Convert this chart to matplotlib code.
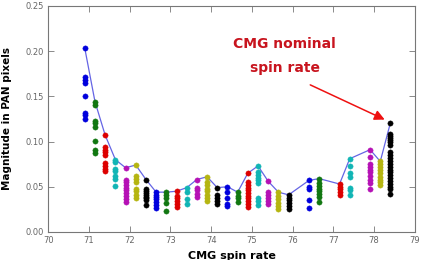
import matplotlib
matplotlib.use('Agg')
import matplotlib.pyplot as plt
from itertools import cycle

# CMG spin rate for each measurement column
spin_rates = [70.9, 71.15, 71.4, 71.65, 71.9, 72.15, 72.4, 72.65, 72.9, 73.15,
              73.4, 73.65, 73.9, 74.15, 74.4, 74.65, 74.9, 75.15, 75.4, 75.65,
              75.9, 76.4, 76.65, 77.15, 77.4, 77.9, 78.15, 78.4]

# jitter magnitudes (PAN pixels) measured at each spin rate
magnitudes = [
    [0.203, 0.171, 0.168, 0.165, 0.150, 0.132, 0.129, 0.125],
    [0.144, 0.140, 0.123, 0.120, 0.116, 0.101, 0.091, 0.087],
    [0.107, 0.094, 0.091, 0.088, 0.085, 0.076, 0.073, 0.070, 0.067],
    [0.080, 0.077, 0.070, 0.067, 0.062, 0.059, 0.051],
    [0.071, 0.058, 0.055, 0.052, 0.049, 0.046, 0.043, 0.040, 0.036, 0.033],
    [0.074, 0.062, 0.059, 0.055, 0.048, 0.045, 0.041, 0.038],
    [0.058, 0.047, 0.045, 0.043, 0.041, 0.039, 0.037, 0.035, 0.030],
    [0.044, 0.041, 0.039, 0.036, 0.033, 0.030, 0.026],
    [0.044, 0.041, 0.037, 0.032, 0.023],
    [0.045, 0.040, 0.037, 0.034, 0.031, 0.028],
    [0.049, 0.044, 0.036, 0.031],
    [0.058, 0.049, 0.046, 0.042, 0.039],
    [0.061, 0.055, 0.052, 0.048, 0.045, 0.041, 0.037, 0.034],
    [0.049, 0.041, 0.037, 0.034, 0.031],
    [0.050, 0.044, 0.037, 0.031, 0.029],
    [0.044, 0.040, 0.037, 0.033],
    [0.065, 0.055, 0.052, 0.049, 0.046, 0.043, 0.040, 0.037, 0.034, 0.031, 0.028],
    [0.073, 0.066, 0.063, 0.060, 0.057, 0.054, 0.037, 0.034, 0.030],
    [0.056, 0.044, 0.041, 0.037, 0.034, 0.031],
    [0.044, 0.040, 0.036, 0.032, 0.029, 0.025],
    [0.041, 0.038, 0.035, 0.032, 0.029, 0.025],
    [0.057, 0.050, 0.047, 0.035, 0.027],
    [0.059, 0.054, 0.051, 0.048, 0.045, 0.042, 0.039, 0.033],
    [0.053, 0.050, 0.047, 0.044, 0.041],
    [0.081, 0.073, 0.065, 0.061, 0.049, 0.046, 0.041],
    [0.091, 0.083, 0.075, 0.072, 0.069, 0.066, 0.062, 0.058, 0.054, 0.047],
    [0.078, 0.075, 0.072, 0.069, 0.065, 0.061, 0.058, 0.055, 0.052],
    [0.121, 0.108, 0.106, 0.104, 0.102, 0.099, 0.096, 0.088, 0.085, 0.082,
     0.078, 0.075, 0.072, 0.069, 0.066, 0.063, 0.060, 0.056, 0.053, 0.050,
     0.047, 0.042],
]

x_ticks = [70, 71, 72, 73, 74, 75, 76, 77, 78, 79]
y_ticks = [0.00, 0.05, 0.10, 0.15, 0.20, 0.25]

# old matplotlib colour cycle, a touch darker like the original
colors = cycle(['#0000dd', '#117711', '#dd0000', '#11b5b5', '#b511b5', '#b5b511', '#000000'])

fig = plt.figure(figsize=(4.26, 2.6), dpi=100)
ax = fig.add_axes([0.113, 0.108, 0.861, 0.869])

for rate, vals, col in zip(spin_rates, magnitudes, colors):
    ax.plot([rate] * len(vals), vals, 'o', color=col, markersize=3.8,
            markeredgecolor=col, markeredgewidth=0.3, linestyle='none', zorder=3)

# envelope through the largest value of each column
peaks = [max(v) for v in magnitudes]
ax.plot(spin_rates, peaks, '-', color='#4a4ae0', linewidth=0.9, alpha=0.85, zorder=2)

ax.set_xlim(70, 79)
ax.set_ylim(0, 0.25)
ax.set_xticks(x_ticks)
ax.set_yticks(y_ticks)
ax.set_xticklabels([str(t) for t in x_ticks])
ax.set_yticklabels(['%.2f' % t for t in y_ticks])

ax.tick_params(direction='in', top=True, right=True, length=4, width=0.6,
               colors='#777777', labelsize=6, labelcolor='#666666', pad=3)
for sp in ax.spines.values():
    sp.set_color('#777777')
    sp.set_linewidth(0.8)

ax.set_xlabel('CMG spin rate', fontsize=8, fontweight='bold', labelpad=4)
ax.set_ylabel('Magnitude in PAN pixels', fontsize=7.5, fontweight='bold', labelpad=10)

ax.text(75.8, 0.195, 'CMG nominal\nspin rate', ha='center', va='center',
        fontsize=10, fontweight='bold', color='#c8141e', linespacing=1.9)
ax.annotate('', xy=(78.32, 0.123), xytext=(76.37, 0.164),
            arrowprops=dict(arrowstyle='-|>,head_length=0.6,head_width=0.3',
                            color='#ee1111', linewidth=1.1))

fig.savefig('out.png', dpi=100)
